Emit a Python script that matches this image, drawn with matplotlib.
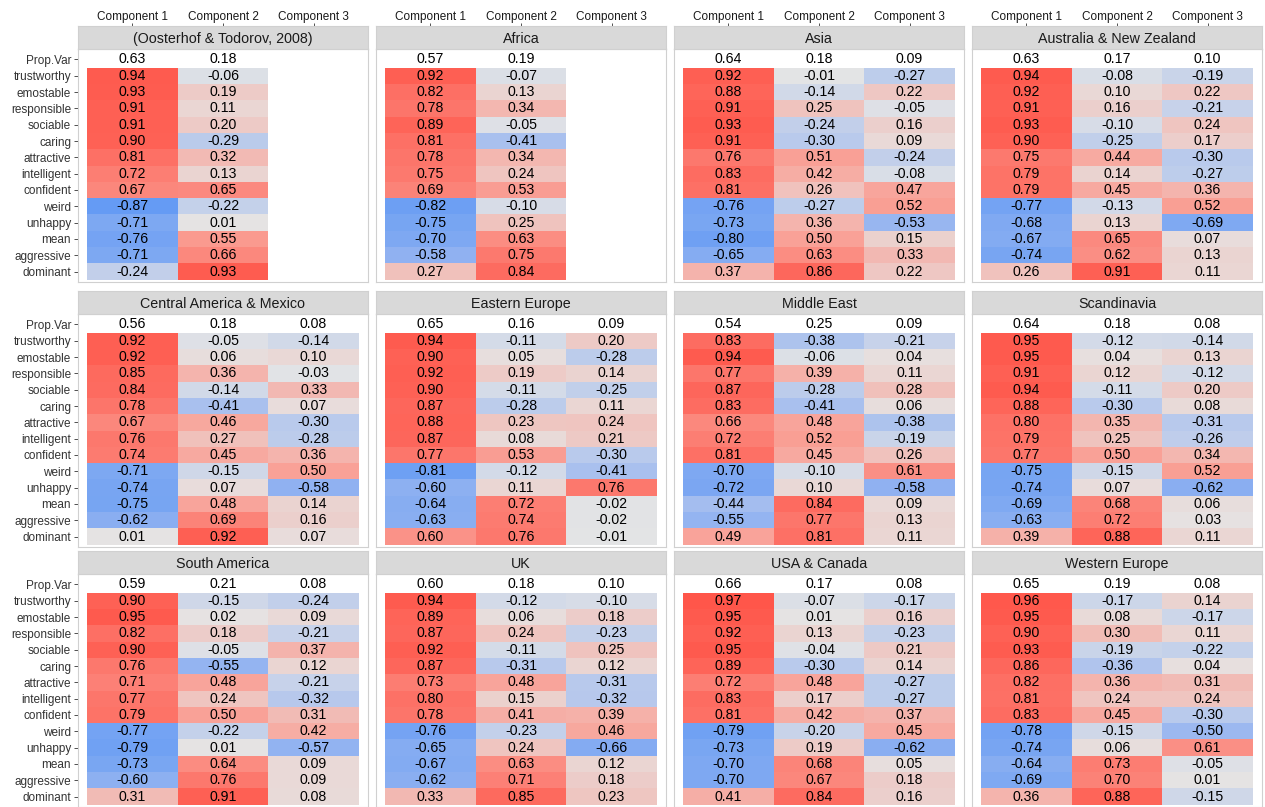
import numpy as np
import matplotlib
matplotlib.use("Agg")
import matplotlib.pyplot as plt
from matplotlib.colors import LinearSegmentedColormap

plt.rcParams['font.family'] = ['Liberation Sans', 'DejaVu Sans']

traits = ["trustworthy", "emostable", "responsible", "sociable", "caring",
          "attractive", "intelligent", "confident", "weird", "unhappy",
          "mean", "aggressive", "dominant"]
components = ["Component 1", "Component 2", "Component 3"]
titles = ["(Oosterhof & Todorov, 2008)", "Africa", "Asia", "Australia & New Zealand",
          "Central America & Mexico", "Eastern Europe", "Middle East", "Scandinavia",
          "South America", "UK", "USA & Canada", "Western Europe"]

# proportion of variance per component (None = component not extracted)
pv_oosterhof = [0.63, 0.18, None]
pv_africa = [0.57, 0.19, None]
pv_asia = [0.64, 0.18, 0.09]
pv_ausnz = [0.63, 0.17, 0.10]
pv_centam = [0.56, 0.18, 0.08]
pv_easteu = [0.65, 0.16, 0.09]
pv_mideast = [0.54, 0.25, 0.09]
pv_scand = [0.64, 0.18, 0.08]
pv_southam = [0.59, 0.21, 0.08]
pv_uk = [0.60, 0.18, 0.10]
pv_usacan = [0.66, 0.17, 0.08]
pv_westeu = [0.65, 0.19, 0.08]

# loadings: one list per component, in the order of `traits`
ld_oosterhof = [
    [0.94, 0.93, 0.91, 0.91, 0.90, 0.81, 0.72, 0.67, -0.87, -0.71, -0.76, -0.71, -0.24],
    [-0.06, 0.19, 0.11, 0.20, -0.29, 0.32, 0.13, 0.65, -0.22, 0.01, 0.55, 0.66, 0.93],
    None]
ld_africa = [
    [0.92, 0.82, 0.78, 0.89, 0.81, 0.78, 0.75, 0.69, -0.82, -0.75, -0.70, -0.58, 0.27],
    [-0.07, 0.13, 0.34, -0.05, -0.41, 0.34, 0.24, 0.53, -0.10, 0.25, 0.63, 0.75, 0.84],
    None]
ld_asia = [
    [0.92, 0.88, 0.91, 0.93, 0.91, 0.76, 0.83, 0.81, -0.76, -0.73, -0.80, -0.65, 0.37],
    [-0.01, -0.14, 0.25, -0.24, -0.30, 0.51, 0.42, 0.26, -0.27, 0.36, 0.50, 0.63, 0.86],
    [-0.27, 0.22, -0.05, 0.16, 0.09, -0.24, -0.08, 0.47, 0.52, -0.53, 0.15, 0.33, 0.22]]
ld_ausnz = [
    [0.94, 0.92, 0.91, 0.93, 0.90, 0.75, 0.79, 0.79, -0.77, -0.68, -0.67, -0.74, 0.26],
    [-0.08, 0.10, 0.16, -0.10, -0.25, 0.44, 0.14, 0.45, -0.13, 0.13, 0.65, 0.62, 0.91],
    [-0.19, 0.22, -0.21, 0.24, 0.17, -0.30, -0.27, 0.36, 0.52, -0.69, 0.07, 0.13, 0.11]]
ld_centam = [
    [0.92, 0.92, 0.85, 0.84, 0.78, 0.67, 0.76, 0.74, -0.71, -0.74, -0.75, -0.62, 0.01],
    [-0.05, 0.06, 0.36, -0.14, -0.41, 0.46, 0.27, 0.45, -0.15, 0.07, 0.48, 0.69, 0.92],
    [-0.14, 0.10, -0.03, 0.33, 0.07, -0.30, -0.28, 0.36, 0.50, -0.58, 0.14, 0.16, 0.07]]
ld_easteu = [
    [0.94, 0.90, 0.92, 0.90, 0.87, 0.88, 0.87, 0.77, -0.81, -0.60, -0.64, -0.63, 0.60],
    [-0.11, 0.05, 0.19, -0.11, -0.28, 0.23, 0.08, 0.53, -0.12, 0.11, 0.72, 0.74, 0.76],
    [0.20, -0.28, 0.14, -0.25, 0.11, 0.24, 0.21, -0.30, -0.41, 0.76, -0.02, -0.02, -0.01]]
ld_mideast = [
    [0.83, 0.94, 0.77, 0.87, 0.83, 0.66, 0.72, 0.81, -0.70, -0.72, -0.44, -0.55, 0.49],
    [-0.38, -0.06, 0.39, -0.28, -0.41, 0.48, 0.52, 0.45, -0.10, 0.10, 0.84, 0.77, 0.81],
    [-0.21, 0.04, 0.11, 0.28, 0.06, -0.38, -0.19, 0.26, 0.61, -0.58, 0.09, 0.13, 0.11]]
ld_scand = [
    [0.95, 0.95, 0.91, 0.94, 0.88, 0.80, 0.79, 0.77, -0.75, -0.74, -0.69, -0.63, 0.39],
    [-0.12, 0.04, 0.12, -0.11, -0.30, 0.35, 0.25, 0.50, -0.15, 0.07, 0.68, 0.72, 0.88],
    [-0.14, 0.13, -0.12, 0.20, 0.08, -0.31, -0.26, 0.34, 0.52, -0.62, 0.06, 0.03, 0.11]]
ld_southam = [
    [0.90, 0.95, 0.82, 0.90, 0.76, 0.71, 0.77, 0.79, -0.77, -0.79, -0.73, -0.60, 0.31],
    [-0.15, 0.02, 0.18, -0.05, -0.55, 0.48, 0.24, 0.50, -0.22, 0.01, 0.64, 0.76, 0.91],
    [-0.24, 0.09, -0.21, 0.37, 0.12, -0.21, -0.32, 0.31, 0.42, -0.57, 0.09, 0.09, 0.08]]
ld_uk = [
    [0.94, 0.89, 0.87, 0.92, 0.87, 0.73, 0.80, 0.78, -0.76, -0.65, -0.67, -0.62, 0.33],
    [-0.12, 0.06, 0.24, -0.11, -0.31, 0.48, 0.15, 0.41, -0.23, 0.24, 0.63, 0.71, 0.85],
    [-0.10, 0.18, -0.23, 0.25, 0.12, -0.31, -0.32, 0.39, 0.46, -0.66, 0.12, 0.18, 0.23]]
ld_usacan = [
    [0.97, 0.95, 0.92, 0.95, 0.89, 0.72, 0.83, 0.81, -0.79, -0.73, -0.70, -0.70, 0.41],
    [-0.07, 0.01, 0.13, -0.04, -0.30, 0.48, 0.17, 0.42, -0.20, 0.19, 0.68, 0.67, 0.84],
    [-0.17, 0.16, -0.23, 0.21, 0.14, -0.27, -0.27, 0.37, 0.45, -0.62, 0.05, 0.18, 0.16]]
ld_westeu = [
    [0.96, 0.95, 0.90, 0.93, 0.86, 0.82, 0.81, 0.83, -0.78, -0.74, -0.64, -0.69, 0.36],
    [-0.17, 0.08, 0.30, -0.19, -0.36, 0.36, 0.24, 0.45, -0.15, 0.06, 0.73, 0.70, 0.88],
    [0.14, -0.17, 0.11, -0.22, 0.04, 0.31, 0.24, -0.30, -0.50, 0.61, -0.05, 0.01, -0.15]]

prop_vars = [pv_oosterhof, pv_africa, pv_asia, pv_ausnz, pv_centam, pv_easteu,
             pv_mideast, pv_scand, pv_southam, pv_uk, pv_usacan, pv_westeu]
loadings = [ld_oosterhof, ld_africa, ld_asia, ld_ausnz, ld_centam, ld_easteu,
            ld_mideast, ld_scand, ld_southam, ld_uk, ld_usacan, ld_westeu]

# blue - grey - red
cmap = LinearSegmentedColormap.from_list("div", [
    (0.0, (82/255, 145/255, 245/255)),
    (0.25, (156/255, 184/255, 240/255)),
    (0.5, (229/255, 229/255, 229/255)),
    (0.75, (249/255, 162/255, 152/255)),
    (1.0, (255/255, 82/255, 70/255))])

W, H = 1265, 807
fig = plt.figure(figsize=(W/100, H/100), dpi=100)

col_left = [78, 376, 674, 972]
strip_top = [26, 291, 551]
pw, ph, sh = 290, 233, 23

def rect(x, y, w, h):
    return [x/W, 1 - (y + h)/H, w/W, h/H]

ylabels = ["Prop.Var"] + traits
for k in range(12):
    r, c = divmod(k, 4)
    x0 = col_left[c]
    st = strip_top[r]

    ax = fig.add_axes(rect(x0, st + sh, pw, ph))
    cols = [np.array(l, dtype=float) if l is not None else np.full(len(traits), np.nan)
            for l in loadings[k]]
    arr = np.ma.masked_invalid(np.column_stack(cols))
    ax.pcolormesh(np.arange(-0.5, 3.0, 1.0), np.arange(0.5, 14.0, 1.0), arr,
                  cmap=cmap, vmin=-1, vmax=1)
    for j in range(3):
        if prop_vars[k][j] is not None:
            ax.text(j, 0, f"{prop_vars[k][j]:.2f}", ha='center', va='center', fontsize=10.2)
        if loadings[k][j] is None:
            continue
        for i, v in enumerate(loadings[k][j]):
            ax.text(j, i + 1, f"{v:.2f}", ha='center', va='center', fontsize=10.2)
    ax.set_xlim(-0.6, 2.6)
    ax.set_ylim(13.64, -0.64)
    ax.set_xticks([])
    if c == 0:
        ax.set_yticks(range(14))
        ax.set_yticklabels(ylabels, fontsize=8.5, color='#333333')
        ax.tick_params(axis='y', length=3, width=0.6, color='#333333', pad=2)
    else:
        ax.set_yticks([])
    for s in ax.spines.values():
        s.set_color('#D0D0D0')
        s.set_linewidth(0.8)

    sax = fig.add_axes(rect(x0, st, pw, sh))
    sax.set_facecolor('#D9D9D9')
    sax.set_xlim(-0.6, 2.6)
    sax.set_ylim(0, 1)
    sax.set_yticks([])
    sax.text(1, 0.45, titles[k], ha='center', va='center', fontsize=10.3, color='#1A1A1A')
    for s in sax.spines.values():
        s.set_color('#D0D0D0')
        s.set_linewidth(0.8)
    if r == 0:
        sax.set_xticks(range(3))
        sax.set_xticklabels(components, fontsize=8.5, color='#1A1A1A')
        sax.xaxis.tick_top()
        sax.tick_params(axis='x', length=2.5, width=0.6, color='#333333', pad=0)
    else:
        sax.set_xticks([])

fig.savefig("out.png", dpi=100)
